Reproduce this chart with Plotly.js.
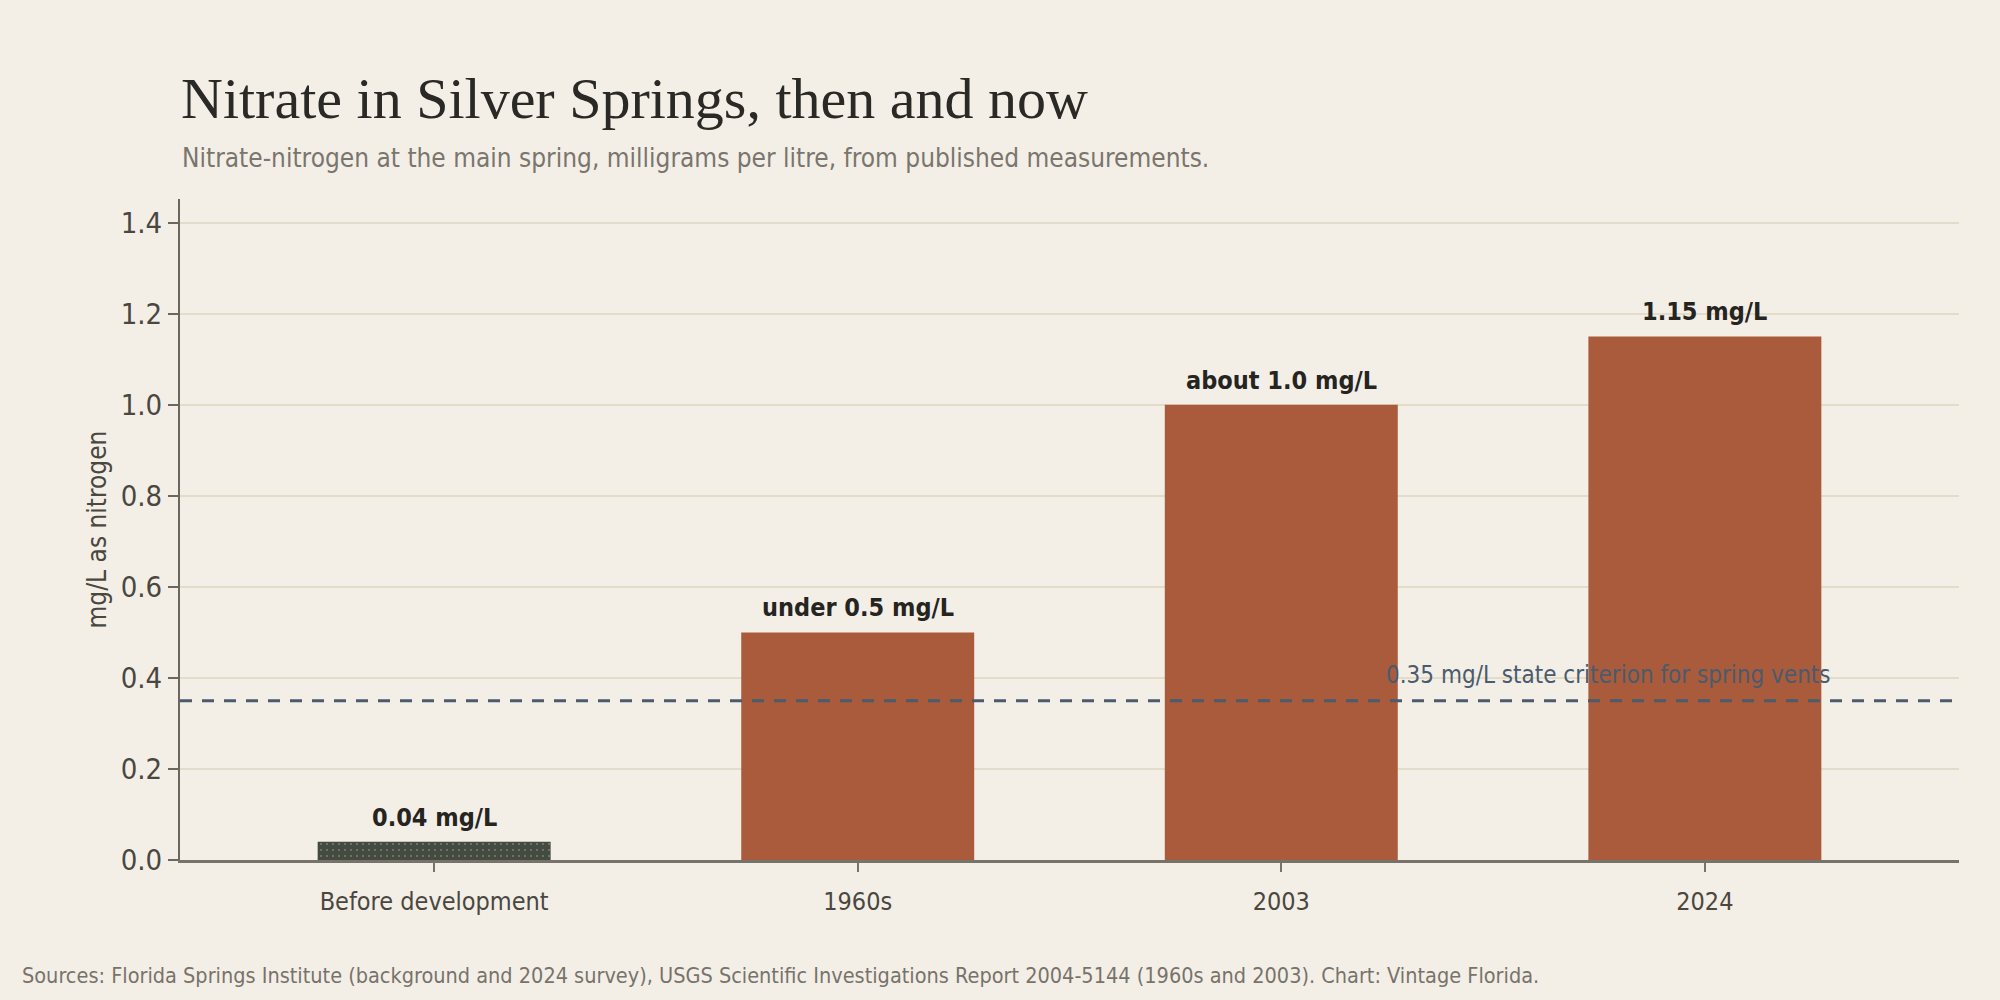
<!DOCTYPE html>
<html>
<head>
<meta charset="utf-8">
<script src="https://cdn.plot.ly/plotly-3.0.1.min.js"></script>
<style>
  html, body { margin: 0; padding: 0; background: #f3efe7; }
  #chart { width: 2000px; height: 1000px; }
</style>
</head>
<body>
<div id="chart"></div>
<script>
const periods = ['Before development', '1960s', '2003', '2024'];
const nitrate = [0.04, 0.5, 1.0, 1.15];
const valueLabels = ['0.04 mg/L', 'under 0.5 mg/L', 'about 1.0 mg/L', '1.15 mg/L'];
const criterion = 0.35;
const criterionLabel = '0.35 mg/L state criterion for spring vents';
const yTicks = [0, 0.2, 0.4, 0.6, 0.8, 1.0, 1.2, 1.4];

const sans = '"Liberation Sans Narrow", "DejaVu Sans Condensed", "Liberation Sans", sans-serif';
const serif = '"Liberation Serif", "DejaVu Serif", serif';

const barColors = periods.map((p, i) => i === 0 ? '#434a40' : '#a95b3c');
const barPatterns = periods.map((p, i) => i === 0 ? '.' : '');

const trace = {
  type: 'bar',
  x: periods,
  y: nitrate,
  width: 0.55,
  marker: {
    color: barColors,
    line: { width: 0 },
    pattern: { shape: barPatterns, fillmode: 'overlay', fgcolor: '#262a25', size: 6, solidity: 0.06 }
  },
  hoverinfo: 'skip'
};

// category index used for x so "2003" is not read as a number
const annotations = periods.map((p, i) => ({
  x: i,
  y: nitrate[i],
  xref: 'x',
  yref: 'y',
  text: '<b>' + valueLabels[i] + '</b>',
  showarrow: false,
  yanchor: 'bottom',
  yshift: 8,
  font: { family: sans, size: 25, color: '#26241f' }
}));

annotations.push({
  x: 0.929, xref: 'paper',
  y: criterion, yref: 'y',
  text: criterionLabel,
  showarrow: false,
  xanchor: 'right',
  yanchor: 'bottom',
  yshift: 10,
  font: { family: sans, size: 24, color: '#4a5b6d' }
});

annotations.push({
  x: 0, xref: 'paper',
  y: 1.062, yref: 'paper',
  text: 'Nitrate-nitrogen at the main spring, milligrams per litre, from published measurements.',
  showarrow: false,
  xanchor: 'left',
  yanchor: 'middle',
  font: { family: sans, size: 26, color: '#7a756d' }
});

annotations.push({
  x: -0.09, xref: 'paper',
  y: -0.174, yref: 'paper',
  text: 'Sources: Florida Springs Institute (background and 2024 survey), USGS Scientific Investigations Report 2004-5144 (1960s and 2003). Chart: Vintage Florida.',
  showarrow: false,
  xanchor: 'left',
  yanchor: 'middle',
  font: { family: sans, size: 21.5, color: '#77736b' }
});

const layout = {
  width: 2000,
  height: 1000,
  paper_bgcolor: '#f3efe7',
  plot_bgcolor: '#f3efe7',
  margin: { l: 180, r: 41, t: 199, b: 140 },
  showlegend: false,
  title: {
    text: 'Nitrate in Silver Springs, then and now',
    font: { family: serif, size: 58, color: '#2a2925' },
    xref: 'container', x: 0.0905, xanchor: 'left',
    yref: 'container', y: 0.923, yanchor: 'top'
  },
  xaxis: {
    type: 'category',
    range: [-0.6, 3.6],
    showline: true,
    linecolor: '#77736a',
    linewidth: 3,
    ticks: 'outside',
    ticklen: 9,
    tickwidth: 2,
    tickcolor: '#77736a',
    ticklabelstandoff: 8,
    showgrid: false,
    zeroline: false,
    tickfont: { family: sans, size: 25, color: '#4a4740' },
    fixedrange: true
  },
  yaxis: {
    range: [0, 1.452],
    tickvals: yTicks,
    ticktext: yTicks.map(v => v.toFixed(1)),
    showline: true,
    linecolor: '#6b675f',
    linewidth: 2,
    ticks: 'outside',
    ticklen: 10,
    tickwidth: 2,
    tickcolor: '#6b675f',
    showgrid: true,
    gridcolor: '#e3dcc8',
    gridwidth: 2,
    zeroline: false,
    tickfont: { family: sans, size: 29, color: '#4a4740' },
    title: {
      text: 'mg/L as nitrogen',
      font: { family: sans, size: 26, color: '#4a4740' },
      standoff: 7
    },
    fixedrange: true
  },
  shapes: [{
    type: 'line',
    xref: 'paper', x0: 0, x1: 1,
    yref: 'y', y0: criterion, y1: criterion,
    layer: 'above',
    line: { color: '#4a5b6d', width: 3, dash: '12px,10px' }
  }],
  annotations: annotations
};

Plotly.newPlot('chart', [trace], layout, { displayModeBar: false, staticPlot: true });
</script>
</body>
</html>
